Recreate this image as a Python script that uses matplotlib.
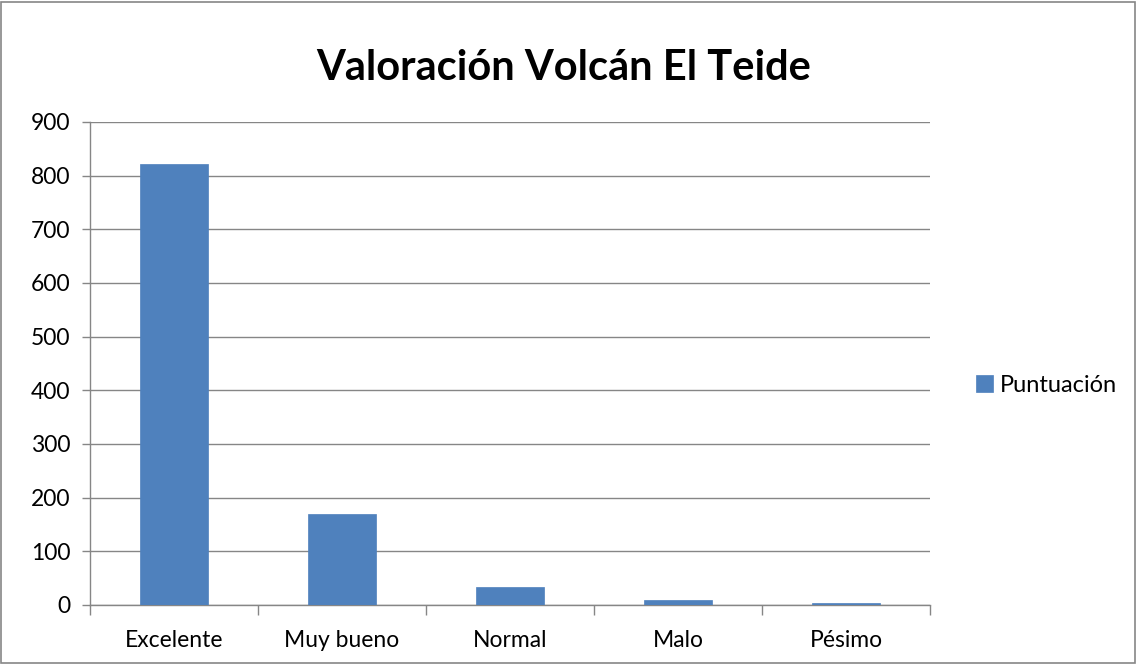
import matplotlib
matplotlib.use("Agg")
import matplotlib.pyplot as plt
import numpy as np

plt.rcParams['font.family'] = ['Lato', 'DejaVu Sans']

categorias = ["Excelente", "Muy bueno", "Normal", "Malo", "Pésimo"]
puntuacion = [822, 169, 34, 9, 3]
titulo = "Valoración Volcán El Teide"
yticks = [0, 100, 200, 300, 400, 500, 600, 700, 800, 900]

color_barra = "#4F81BD"
gris = "#868686"

fig = plt.figure(figsize=(11.37, 6.64), dpi=100)
# borde exterior del grafico
fig.patches.append(plt.Rectangle((0.001, 0.002), 0.997, 0.995, transform=fig.transFigure,
                                 fill=False, edgecolor=gris, linewidth=1.2))

ax = fig.add_axes([0.0792, 0.0889, 0.7388, 0.7274])
x = np.arange(len(categorias))
ax.bar(x, puntuacion, width=0.4, color=color_barra, edgecolor=color_barra, linewidth=0.5,
       label="Puntuación", zorder=3)

ax.set_xlim(-0.5, len(categorias) - 0.5)
ax.set_ylim(0, 900)
ax.set_yticks(yticks)
ax.set_yticklabels([str(t) for t in yticks], fontsize=16.5)
ax.yaxis.grid(True, color=gris, linewidth=1, zorder=0)
ax.set_axisbelow(True)

# ticks del eje x en los limites de las categorias
ax.set_xticks(np.arange(-0.5, len(categorias)), minor=False)
ax.set_xticklabels([""] * (len(categorias) + 1))
ax.set_xticks(x, minor=True)
ax.set_xticklabels(categorias, minor=True, fontsize=16.5)
ax.tick_params(axis="x", which="major", length=7, color=gris, width=1)
ax.tick_params(axis="x", which="minor", length=0, pad=18)
ax.tick_params(axis="y", length=6, color=gris, width=1, pad=8)

for side in ["top", "right"]:
    ax.spines[side].set_visible(False)
for side in ["left", "bottom"]:
    ax.spines[side].set_color(gris)
    ax.spines[side].set_linewidth(1)

fig.text(0.496, 0.897, titulo, ha="center", va="center", fontsize=30, fontweight="bold")

fig.legend(loc="center left", bbox_to_anchor=(0.84, 0.42), frameon=False, fontsize=17,
           handlelength=0.7, handleheight=0.7, handletextpad=0.3)

fig.savefig("out.png", dpi=100)
